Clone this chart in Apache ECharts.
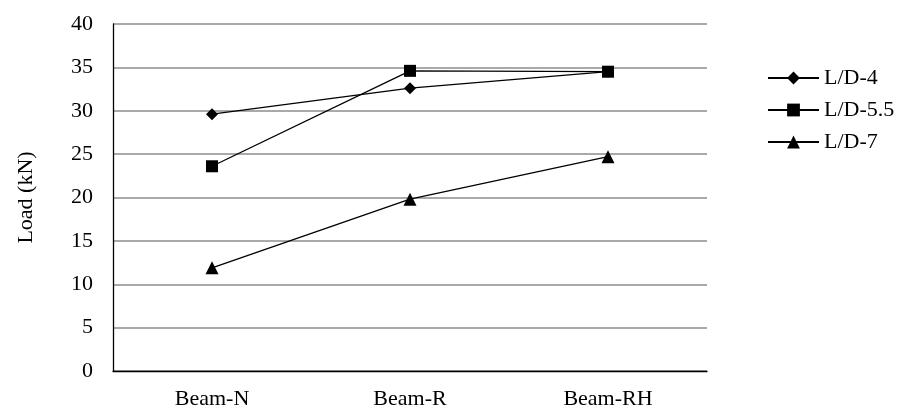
<!DOCTYPE html>
<html>
<head>
<meta charset="utf-8">
<script src="https://cdn.jsdelivr.net/npm/echarts@6/dist/echarts.min.js"></script>
<style>
  html, body { margin: 0; padding: 0; background: #fff; }
  #chart { width: 897px; height: 410px; }
</style>
</head>
<body>
<div id="chart"></div>
<script>
// categories and series values
const categories = ['Beam-N', 'Beam-R', 'Beam-RH'];
const ld4   = [29.6, 32.6, 34.5];
const ld55  = [23.6, 34.6, 34.5];
const ld7   = [11.9, 19.8, 24.7];
const seriesNames = ['L/D-4', 'L/D-5.5', 'L/D-7'];

const font = '"Liberation Serif", "Times New Roman", serif';
const chart = echarts.init(document.getElementById('chart'));

function lineSeries(name, data, symbol, size) {
  return {
    name, type: 'line', data,
    symbol, symbolSize: size,
    lineStyle: { color: '#000', width: 1.3 },
    itemStyle: { color: '#000' },
    emphasis: { disabled: true }
  };
}

chart.setOption({
  animation: false,
  textStyle: { fontFamily: font },
  grid: { left: 113, right: 190, top: 24, bottom: 38 },
  legend: {
    orient: 'vertical',
    left: 762, top: 62,
    itemWidth: 51, itemHeight: 16, itemGap: 10,
    textStyle: { fontFamily: font, fontSize: 22, color: '#000' },
    data: seriesNames
  },
  xAxis: {
    type: 'category',
    data: categories,
    boundaryGap: true,
    axisLine: { lineStyle: { color: '#000', width: 1.3 } },
    axisTick: { show: false },
    axisLabel: { color: '#000', fontSize: 22, margin: 17, fontFamily: font }
  },
  yAxis: {
    type: 'value',
    min: 0, max: 40, interval: 5,
    name: 'Load (kN)',
    nameLocation: 'middle',
    nameGap: 76,
    nameTextStyle: { color: '#000', fontSize: 22, fontFamily: font },
    axisLine: { show: true, lineStyle: { color: '#000', width: 1.3 } },
    axisTick: { show: false },
    axisLabel: { color: '#000', fontSize: 22, margin: 20, fontFamily: font },
    splitLine: { lineStyle: { color: '#8c8c8c', width: 1.5 } }
  },
  series: [
    lineSeries(seriesNames[0], ld4, 'diamond', 12),
    lineSeries(seriesNames[1], ld55, 'rect', 12),
    lineSeries(seriesNames[2], ld7, 'triangle', 13)
  ]
});
</script>
</body>
</html>
